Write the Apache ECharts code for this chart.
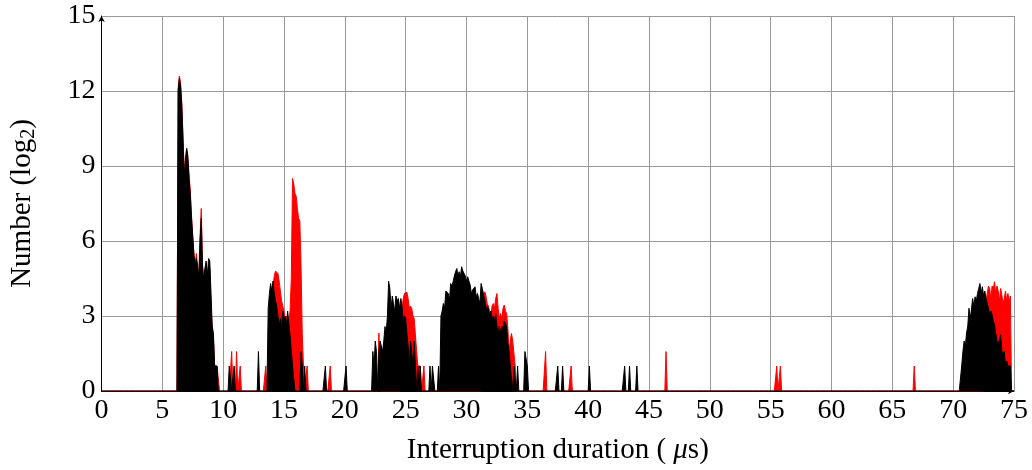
<!DOCTYPE html>
<html>
<head>
<meta charset="utf-8">
<script src="https://cdn.jsdelivr.net/npm/echarts@6/dist/echarts.min.js"></script>
<style>
html,body{margin:0;padding:0;background:#fff;}
#chart{width:1032px;height:470px;}
</style>
</head>
<body>
<div id="chart"></div>
<script>
// Histogram bins (µs) and log2 counts
const binWidth = 0.1;
const xMax = 75;
const xTicks = [0,5,10,15,20,25,30,35,40,45,50,55,60,65,70,75];
const yTicks = [0,3,6,9,12,15];

// Red series: [startX, values...]
const redC1 = [6.3, [12.1,12.6,12.3,11.5,10.2,8.8,9.3,9.7,9.2,8.6,8.0,7.0,6.1,5.5,5.1,5.5,4.9,4.6,6.2,7.3,5.1,4.5,4.8,5.1,4.5,5.0,4.9,3.5,2.5,2.1,1.0,1.0,1.0,1.0]];
const redC2 = [13.9, [3.0,3.5,4.2,4.6,4.8,4.75,4.7,4.4,4.0,3.6,3.4,3.2,2.8,3.0,2.6,2.8,3.2,4.5,8.5,8.3,7.9,7.8,7.3,6.9,6.8,5.0,2.3,1.0]];
const redC3 = [24.7, [3.3,3.7,3.9,3.84,3.95,3.7,3.3,3.4,3.3,3.0,2.9,2.25,1.6,1.0,1.0,1.0]];
const redC4 = [31.4, [3.5,3.97,3.8,3.5,3.4,3.37,3.0,3.4,3.5,3.3,3.7,3.9,3.3,2.9,3.1,2.9,3.3,3.44,3.2,3.1,2.5,1.6,2.05,2.3,2.0,2.0,1.0]];
const redC5 = [72.7, [3.6,3.9,4.2,4.1,3.7,4.2,4.1,4.37,3.9,4.2,4.0,3.6,4.1,3.84,3.5,3.7,4.0,3.6,3.9,3.57,3.8]];
const redSpikes = [[10.7,1.58],[11.1,1.58],[11.4,1.0],[13.5,1.0],[16.9,1.0],[18.8,1.0],[22.8,2.32],[26.5,1.0],[36.5,1.58],[38.6,1.0],[46.4,1.58],[55.5,1.0],[55.8,1.0],[66.8,1.0]];

// Black series
const blackC1 = [6.3, [12.0,12.5,12.2,11.4,10.0,8.6,9.2,9.7,9.4,8.5,7.8,6.9,6.2,5.4,5.0,5.3,5.0,4.5,6.0,6.9,5.0,4.4,4.9,5.2,4.6,5.3,5.2,3.9,2.6,2.3,1.0,1.0,1.0]];
const blackC2 = [13.7, [3.3,3.9,4.3,4.0,4.4,3.9,3.6,3.4,3.0,2.6,2.9,2.5,3.2,2.8,3.0,2.6,3.2,2.7,2.2,1.6,1.0,1.0,0,0,0,0,0,1.58,1.0,0,1.0]];
const blackC3 = [22.3, [1.58,1.0,2.0,1.58,0,1.58,2.0,2.0,1.58,2.0,2.58,2.32,3.0,4.39,4.1,3.3,3.8,3.5,3.17,3.8,3.6,3.7,3.3,3.7,3.4,2.8,3.0,2.9,2.3,1.8,1.0,2.0,1.58,1.0,2.0,1.0,0,1.0,0,1.0]];
const blackC4 = [27.9, [3.0,3.2,3.5,3.3,4.0,4.0,3.9,3.64,4.3,4.2,4.37,4.6,4.77,4.9,4.63,4.77,4.57,4.97,4.8,4.77,4.6,4.37,4.57,4.4,4.24,3.9,4.04,4.0,4.17,3.77,3.9,3.7,3.5,4.3,4.1,4.04,3.64,3.24,3.4,3.3,3.0,3.2,2.9,3.0,2.8,3.1,2.6,2.3,2.6,2.3,2.6,2.5,2.8,2.84,2.58,1.92,1.58,1.0,1.0,0,1.0,1.0,0,1.0,0,0,0,0,0,1.58,1.58,1.0]];
const blackC5 = [70.7, [1.0,1.58,2.0,1.8,2.32,2.6,3.31,2.9,3.24,3.7,3.4,3.77,3.6,3.9,4.1,4.3,3.9,4.17,3.8,4.0,3.7,3.5,3.31,3.0,3.2,3.04,2.8,2.65,2.3,2.0,1.85,1.9,2.25,1.6,1.45,1.58,1.0,1.2,1.0,1.0,1.0]];
const blackSpikes = [[10.5,1.0],[10.6,1.0],[10.9,1.0],[12.9,1.58],[18.4,1.0],[20.1,1.0],[27.0,1.0],[27.2,1.0],[27.3,1.0],[27.7,1.0],[37.5,1.0],[37.9,1.0],[40.1,1.0],[43.0,1.0],[43.4,1.0],[44.0,1.0]];

function buildSeries(clusters, spikes) {
  const n = Math.round(xMax / binWidth);
  const ys = new Array(n + 1).fill(0);
  clusters.forEach(([start, vals]) => {
    const s = Math.round(start / binWidth);
    vals.forEach((v, i) => { ys[s + i] = v; });
  });
  spikes.forEach(([x, v]) => { ys[Math.round(x / binWidth)] = v; });
  return ys.map((v, i) => [+(i * binWidth).toFixed(1), v]);
}

const redData = buildSeries([redC1, redC2, redC3, redC4, redC5], redSpikes);
const blackData = buildSeries([blackC1, blackC2, blackC3, blackC4, blackC5], blackSpikes);

const font = 'Liberation Serif, DejaVu Serif, serif';
const fs = 28;
const chart = echarts.init(document.getElementById('chart'), null, {renderer: 'canvas'});
chart.setOption({
  animation: false,
  backgroundColor: '#fff',
  grid: {left: 98, right: 18, top: 16, bottom: 77, containLabel: false},
  xAxis: {
    type: 'value', min: 0, max: xMax, interval: 5,
    name: '{a|Interruption duration ( }{m|μ}{a|s)}',
    nameLocation: 'middle', nameGap: 45,
    nameTextStyle: {rich: {a: {fontFamily: font, fontSize: 29, color: '#000'}, m: {fontFamily: font, fontSize: 29, fontStyle: 'italic', color: '#000'}}},
    axisLine: {show: true, lineStyle: {color: '#000', width: 1}, symbol: ['none', 'arrow'], symbolSize: [5, 6]},
    axisTick: {show: false},
    axisLabel: {fontFamily: font, fontSize: fs, color: '#000', margin: 6, formatter: v => xTicks.includes(v) ? String(v) : ''},
    splitLine: {show: true, lineStyle: {color: '#999', width: 1}}
  },
  yAxis: {
    type: 'value', min: 0, max: 15, interval: 3,
    name: '{a|Number (log}{s|2}{a|)}',
    nameLocation: 'middle', nameGap: 63, nameRotate: 90,
    nameTextStyle: {rich: {a: {fontFamily: font, fontSize: 29, color: '#000'}, s: {fontFamily: font, fontSize: 20, color: '#000', verticalAlign: 'bottom', padding: [12, 0, 0, 0]}}},
    axisLine: {show: true, lineStyle: {color: '#000', width: 1}, symbol: ['none', 'arrow'], symbolSize: [5, 6]},
    axisTick: {show: false},
    axisLabel: {fontFamily: font, fontSize: fs, color: '#000', margin: 6, formatter: v => yTicks.includes(v) ? String(v) : ''},
    splitLine: {show: true, lineStyle: {color: '#999', width: 1}}
  },
  series: [
    {type: 'line', name: 'red', data: redData, showSymbol: false, symbol: 'none', sampling: null,
     lineStyle: {color: '#ff0000', width: 1}, areaStyle: {color: '#ff0000', opacity: 1}, z: 2},
    {type: 'line', name: 'black', data: blackData, showSymbol: false, symbol: 'none', sampling: null,
     lineStyle: {color: '#000000', width: 1}, areaStyle: {color: '#000000', opacity: 1}, z: 3}
  ]
});
</script>
</body>
</html>
